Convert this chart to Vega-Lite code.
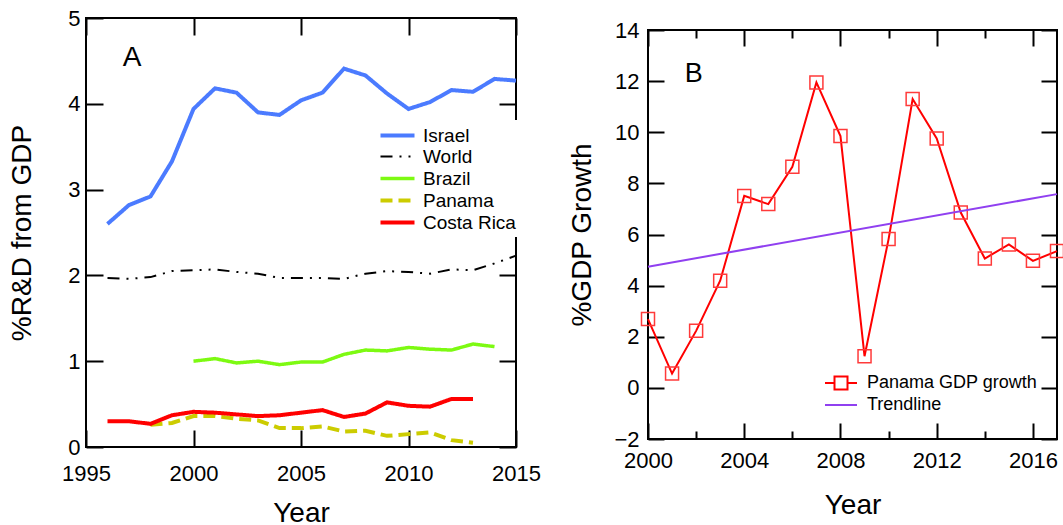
{
  "$schema": "https://vega.github.io/schema/vega-lite/v6.json",
  "padding": {"left": 7, "top": 6, "right": 0, "bottom": 0},
  "background": "white",
  "spacing": 25,
  "resolve": {"scale": {"color": "independent", "strokeDash": "independent", "strokeWidth": "independent"}, "legend": {"color": "independent", "strokeDash": "independent", "strokeWidth": "independent"}},
  "datasets": {
    "rd": [
      {"year": 1996, "country": "Israel", "value": 2.60},
      {"year": 1997, "country": "Israel", "value": 2.82},
      {"year": 1998, "country": "Israel", "value": 2.92},
      {"year": 1999, "country": "Israel", "value": 3.33},
      {"year": 2000, "country": "Israel", "value": 3.94},
      {"year": 2001, "country": "Israel", "value": 4.18},
      {"year": 2002, "country": "Israel", "value": 4.13},
      {"year": 2003, "country": "Israel", "value": 3.90},
      {"year": 2004, "country": "Israel", "value": 3.87},
      {"year": 2005, "country": "Israel", "value": 4.04},
      {"year": 2006, "country": "Israel", "value": 4.13},
      {"year": 2007, "country": "Israel", "value": 4.41},
      {"year": 2008, "country": "Israel", "value": 4.33},
      {"year": 2009, "country": "Israel", "value": 4.12},
      {"year": 2010, "country": "Israel", "value": 3.94},
      {"year": 2011, "country": "Israel", "value": 4.02},
      {"year": 2012, "country": "Israel", "value": 4.16},
      {"year": 2013, "country": "Israel", "value": 4.14},
      {"year": 2014, "country": "Israel", "value": 4.29},
      {"year": 2015, "country": "Israel", "value": 4.27},
      {"year": 1996, "country": "World", "value": 1.97},
      {"year": 1997, "country": "World", "value": 1.96},
      {"year": 1998, "country": "World", "value": 1.98},
      {"year": 1999, "country": "World", "value": 2.05},
      {"year": 2000, "country": "World", "value": 2.06},
      {"year": 2001, "country": "World", "value": 2.07},
      {"year": 2002, "country": "World", "value": 2.04},
      {"year": 2003, "country": "World", "value": 2.02},
      {"year": 2004, "country": "World", "value": 1.97},
      {"year": 2005, "country": "World", "value": 1.97},
      {"year": 2006, "country": "World", "value": 1.97},
      {"year": 2007, "country": "World", "value": 1.96},
      {"year": 2008, "country": "World", "value": 2.02},
      {"year": 2009, "country": "World", "value": 2.05},
      {"year": 2010, "country": "World", "value": 2.04},
      {"year": 2011, "country": "World", "value": 2.02},
      {"year": 2012, "country": "World", "value": 2.07},
      {"year": 2013, "country": "World", "value": 2.06},
      {"year": 2014, "country": "World", "value": 2.14},
      {"year": 2015, "country": "World", "value": 2.23},
      {"year": 2000, "country": "Brazil", "value": 1.00},
      {"year": 2001, "country": "Brazil", "value": 1.03},
      {"year": 2002, "country": "Brazil", "value": 0.98},
      {"year": 2003, "country": "Brazil", "value": 1.00},
      {"year": 2004, "country": "Brazil", "value": 0.96},
      {"year": 2005, "country": "Brazil", "value": 0.99},
      {"year": 2006, "country": "Brazil", "value": 0.99},
      {"year": 2007, "country": "Brazil", "value": 1.08},
      {"year": 2008, "country": "Brazil", "value": 1.13},
      {"year": 2009, "country": "Brazil", "value": 1.12},
      {"year": 2010, "country": "Brazil", "value": 1.16},
      {"year": 2011, "country": "Brazil", "value": 1.14},
      {"year": 2012, "country": "Brazil", "value": 1.13},
      {"year": 2013, "country": "Brazil", "value": 1.20},
      {"year": 2014, "country": "Brazil", "value": 1.17},
      {"year": 1998, "country": "Panama", "value": 0.26},
      {"year": 1999, "country": "Panama", "value": 0.28},
      {"year": 2000, "country": "Panama", "value": 0.36},
      {"year": 2001, "country": "Panama", "value": 0.36},
      {"year": 2002, "country": "Panama", "value": 0.33},
      {"year": 2003, "country": "Panama", "value": 0.31},
      {"year": 2004, "country": "Panama", "value": 0.22},
      {"year": 2005, "country": "Panama", "value": 0.22},
      {"year": 2006, "country": "Panama", "value": 0.24},
      {"year": 2007, "country": "Panama", "value": 0.18},
      {"year": 2008, "country": "Panama", "value": 0.19},
      {"year": 2009, "country": "Panama", "value": 0.13},
      {"year": 2010, "country": "Panama", "value": 0.15},
      {"year": 2011, "country": "Panama", "value": 0.17},
      {"year": 2012, "country": "Panama", "value": 0.08},
      {"year": 2013, "country": "Panama", "value": 0.05},
      {"year": 1996, "country": "Costa Rica", "value": 0.30},
      {"year": 1997, "country": "Costa Rica", "value": 0.30},
      {"year": 1998, "country": "Costa Rica", "value": 0.27},
      {"year": 1999, "country": "Costa Rica", "value": 0.37},
      {"year": 2000, "country": "Costa Rica", "value": 0.41},
      {"year": 2001, "country": "Costa Rica", "value": 0.40},
      {"year": 2002, "country": "Costa Rica", "value": 0.38},
      {"year": 2003, "country": "Costa Rica", "value": 0.36},
      {"year": 2004, "country": "Costa Rica", "value": 0.37},
      {"year": 2005, "country": "Costa Rica", "value": 0.40},
      {"year": 2006, "country": "Costa Rica", "value": 0.43},
      {"year": 2007, "country": "Costa Rica", "value": 0.35},
      {"year": 2008, "country": "Costa Rica", "value": 0.39},
      {"year": 2009, "country": "Costa Rica", "value": 0.52},
      {"year": 2010, "country": "Costa Rica", "value": 0.48},
      {"year": 2011, "country": "Costa Rica", "value": 0.47},
      {"year": 2012, "country": "Costa Rica", "value": 0.56},
      {"year": 2013, "country": "Costa Rica", "value": 0.56}
    ],
    "gdp": [
      {"year": 2000, "growth": 2.69},
      {"year": 2001, "growth": 0.56},
      {"year": 2002, "growth": 2.23},
      {"year": 2003, "growth": 4.19},
      {"year": 2004, "growth": 7.51},
      {"year": 2005, "growth": 7.19},
      {"year": 2006, "growth": 8.65},
      {"year": 2007, "growth": 11.95},
      {"year": 2008, "growth": 9.85},
      {"year": 2009, "growth": 1.24},
      {"year": 2010, "growth": 5.82},
      {"year": 2011, "growth": 11.30},
      {"year": 2012, "growth": 9.76},
      {"year": 2013, "growth": 6.86},
      {"year": 2014, "growth": 5.06},
      {"year": 2015, "growth": 5.61},
      {"year": 2016, "growth": 4.97},
      {"year": 2017, "growth": 5.35}
    ],
    "trend": [
      {"year": 2000, "value": 4.74},
      {"year": 2017, "value": 7.58}
    ]
  },
  "hconcat": [
    {
      "width": 430,
      "height": 429,
      "layer": [
        {
          "data": {"name": "rd"},
          "mark": {"type": "line"},
          "encoding": {
            "x": {"field": "year", "type": "quantitative",
              "scale": {"domain": [1995, 2015], "nice": false, "zero": false},
              "axis": {"orient": "bottom", "values": [1995, 2000, 2005, 2010, 2015], "format": "d",
                "tickSize": -17, "labelPadding": 33, "title": "Year", "titlePadding": 15}},
            "y": {"field": "value", "type": "quantitative",
              "scale": {"domain": [0, 5], "nice": false},
              "axis": {"orient": "left", "values": [0, 1, 2, 3, 4, 5], "format": "d",
                "tickSize": -17, "labelPadding": 23, "title": "%R&D from GDP", "titlePadding": 31}},
            "color": {"field": "country", "type": "nominal",
              "scale": {"domain": ["Israel", "World", "Brazil", "Panama", "Costa Rica"],
                "range": ["#4b7bff", "#000000", "#7dfa12", "#cccc00", "#ff0000"]},
              "legend": {"title": null, "orient": "none", "legendX": 296, "legendY": 102,
                "symbolType": "M-1.79,0H1.79", "symbolSize": 361, "labelFontSize": 19,
                "labelColor": "black", "fillColor": "white", "padding": 4,
                "labelOffset": 14, "rowPadding": -2, "labelLimit": 300}},
            "strokeDash": {"field": "country", "type": "nominal",
              "scale": {"domain": ["Israel", "World", "Brazil", "Panama", "Costa Rica"],
                "range": [[1, 0], [12, 7, 2, 7, 2, 7], [1, 0], [12, 6], [1, 0]]}},
            "strokeWidth": {"field": "country", "type": "nominal",
              "scale": {"type": "ordinal", "domain": ["Israel", "World", "Brazil", "Panama", "Costa Rica"],
                "range": [4, 2, 3.5, 4, 4]}}
          }
        },
        {
          "data": {"values": [{}]},
          "mark": {"type": "text", "fontSize": 28, "align": "center", "baseline": "alphabetic", "color": "black"},
          "encoding": {
            "x": {"datum": 1997.14, "type": "quantitative",
              "axis": {"orient": "top", "values": [1995, 2000, 2005, 2010, 2015], "tickSize": -17, "labels": false, "title": null}},
            "y": {"datum": 4.44, "type": "quantitative",
              "axis": {"orient": "right", "values": [0, 1, 2, 3, 4, 5], "tickSize": -17, "labels": false, "title": null}},
            "text": {"value": "A"}
          }
        }
      ],
      "resolve": {"axis": {"x": "independent", "y": "independent"}}
    },
    {
      "spacing": -6,
      "vconcat": [
        {
          "width": 409,
          "height": 1,
          "data": {"values": [{}]},
          "mark": {"type": "text"},
          "encoding": {"text": {"value": ""}},
          "view": {"stroke": null}
        },
        {
          "width": 409,
          "height": 409,
          "layer": [
            {
              "data": {"name": "gdp"},
              "mark": {"type": "line", "strokeWidth": 2},
              "encoding": {
                "x": {"field": "year", "type": "quantitative",
                  "scale": {"domain": [2000, 2017], "nice": false, "zero": false},
                  "axis": {"orient": "bottom", "values": [2000, 2002, 2004, 2006, 2008, 2010, 2012, 2014, 2016],
                    "format": "d", "labelExpr": "datum.value % 4 === 0 ? datum.label : ''",
                    "tickSize": {"condition": {"test": "datum.value % 4 === 0", "value": -16}, "value": -8},
                    "labelPadding": 27, "title": "Year", "titlePadding": 12}},
                "y": {"field": "growth", "type": "quantitative",
                  "scale": {"domain": [-2, 14], "nice": false, "zero": false},
                  "axis": {"orient": "left", "values": [-2, 0, 2, 4, 6, 8, 10, 12, 14], "format": "d",
                    "tickSize": -16, "labelPadding": 25, "title": "%GDP Growth", "titlePadding": 17}},
                "color": {"datum": "Panama GDP growth",
                  "scale": {"domain": ["Panama GDP growth", "Trendline"], "range": ["#ff0000", "#9040f0"]},
                  "legend": {"title": null, "orient": "none", "legendX": 178, "legendY": 350,
                    "symbolType": "stroke", "symbolSize": 400, "symbolStrokeWidth": 2, "labelFontSize": 18,
                    "labelColor": "black", "padding": 4, "labelOffset": 15, "rowPadding": 0, "labelLimit": 300,
                    "encode": {"symbols": {"update": {"shape": {"signal": "datum.value === 'Trendline' ? 'M-1.6,0H1.6' : 'M-1.6,0H-0.65M0.65,0H1.6M-0.65,-0.65H0.65V0.65H-0.65Z'"}, "fill": {"value": "transparent"}}}}}}
              }
            },
            {
              "data": {"name": "gdp"},
              "mark": {"type": "point", "shape": "square", "filled": false, "size": 169, "strokeWidth": 1.5, "color": "#ff3a3a", "opacity": 1},
              "encoding": {
                "x": {"field": "year", "type": "quantitative", "axis": null},
                "y": {"field": "growth", "type": "quantitative", "axis": null}
              }
            },
            {
              "data": {"name": "trend"},
              "mark": {"type": "line", "strokeWidth": 2},
              "encoding": {
                "x": {"field": "year", "type": "quantitative",
                  "axis": {"orient": "top", "values": [2000, 2002, 2004, 2006, 2008, 2010, 2012, 2014, 2016],
                    "tickSize": {"condition": {"test": "datum.value % 4 === 0", "value": -16}, "value": -8},
                    "labels": false, "title": null}},
                "y": {"field": "value", "type": "quantitative",
                  "axis": {"orient": "right", "values": [-2, 0, 2, 4, 6, 8, 10, 12, 14], "tickSize": -16, "labels": false, "title": null}},
                "color": {"datum": "Trendline"}
              }
            },
            {
              "data": {"values": [{}]},
              "mark": {"type": "text", "fontSize": 27, "align": "center", "baseline": "alphabetic", "color": "black"},
              "encoding": {
                "x": {"datum": 2001.9, "type": "quantitative", "axis": null},
                "y": {"datum": 11.98, "type": "quantitative", "axis": null},
                "text": {"value": "B"}
              }
            }
          ],
          "resolve": {"axis": {"x": "independent", "y": "independent"}}
        }
      ]
    }
  ],
  "config": {
    "font": "Liberation Sans",
    "view": {"stroke": "black", "strokeWidth": 2},
    "axis": {
      "labelFont": "Liberation Sans", "labelFontSize": 22, "labelColor": "black",
      "titleFont": "Liberation Sans", "titleFontSize": 28, "titleFontWeight": "normal", "titleColor": "black",
      "tickColor": "black", "tickWidth": 2, "domain": false, "grid": false,
      "labelFlush": false, "labelOverlap": false, "labelBound": false
    },
    "legend": {"labelFont": "Liberation Sans"},
    "title": {"font": "Liberation Sans"}
  }
}
